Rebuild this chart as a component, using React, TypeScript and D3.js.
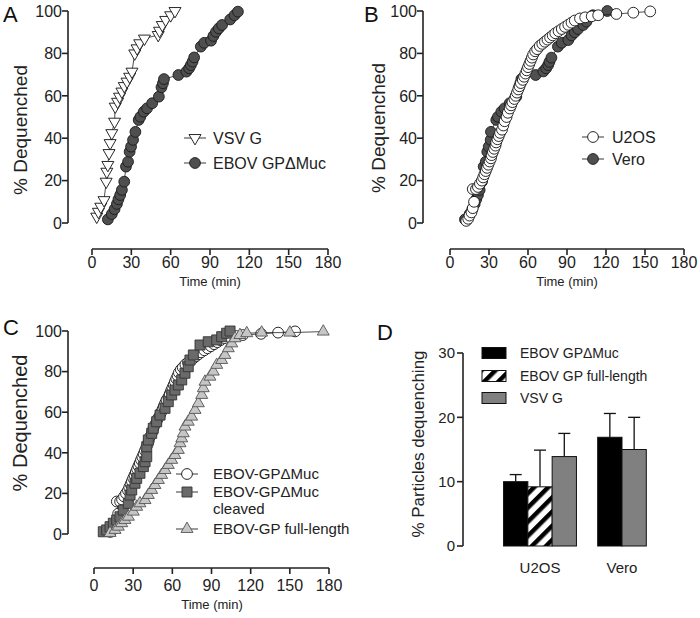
import React from 'react';
import * as d3 from 'd3';

const FONT = '"Liberation Sans", Arial, Helvetica, sans-serif';

// ---------- tick labels ----------
const timeTicks = [0, 30, 60, 90, 120, 150, 180];
const pctTicks = [0, 20, 40, 60, 80, 100];
const barTicks = [0, 10, 20, 30];

// ---------- Panel A: [time (min), % dequenched] ----------
const vsvG: [number, number][] = [
  [3.6, 3], [4.9, 5.3], [6.7, 7.7], [9.2, 10.8], [10.8, 19.5], [11.3, 24.2], [12.1, 27.4], [13, 33],
  [13.8, 37.7], [15.1, 42.4], [17.2, 47.8], [17.7, 54.9], [19.5, 57.2], [21, 59.6], [22.8, 62],
  [24.6, 64.6], [26.7, 66.7], [28.7, 69], [30.5, 71.4], [32.6, 80], [34.4, 82.4], [36.4, 84.8],
  [40, 87], [50.5, 88.7], [51.5, 90.7], [53.6, 93.4], [56.2, 95.8], [60, 98], [63.3, 100],
];
const ebovDMucA: [number, number][] = [
  [12.1, 1.7], [15.1, 4.2], [17.2, 6.5], [19, 9], [20.2, 11.2], [21.5, 13.2], [22.8, 15.6], [24.6, 19.5],
  [25.9, 26.6], [27.5, 28.9], [28.7, 33.6], [29.8, 36], [31.3, 39.2], [33.1, 43], [35.6, 48.6],
  [36.9, 50.1], [39.5, 52.5], [42, 54.1], [45.9, 56.5], [51, 59.6], [53, 64], [54.1, 65.9], [54.9, 67.9],
  [65.9, 69.8], [72, 71.4], [74.1, 73], [75.4, 74.5], [76.7, 76.1], [77.9, 78.1], [83, 83.2], [85.6, 85],
  [90.8, 86], [92.6, 88.2], [94.6, 90.2], [96.7, 91.8], [99.2, 93.4], [105.4, 96], [108.7, 98], [111.3, 99.7],
];

// ---------- Panel B ----------
const u2os: [number, number][] = [
  [12.5, 1], [14, 2], [15, 3.5], [16.5, 5], [17.5, 7], [18.5, 10], [17.5, 16], [20, 16], [21.5, 17],
  [23, 18.5], [24.5, 20], [25.5, 21.5], [26.5, 23], [27.5, 24.5], [28.5, 26], [29.5, 27.5], [30.5, 29],
  [31.5, 30.5], [32, 32], [33, 33.5], [34, 35], [35, 36.5], [35.5, 38], [36.5, 39.5], [37.5, 41],
  [38.5, 42.5], [40, 44], [41, 46], [42, 48], [43.5, 50], [44.5, 52], [46, 54], [47, 55.5], [48, 57],
  [49.5, 58.5], [50.5, 60], [51.5, 61.5], [52.5, 63], [53.5, 64.5], [54.5, 66], [56, 67.5], [57, 69],
  [58, 70.5], [59, 72], [60, 73.5], [61, 75], [62, 76.5], [63, 78], [64, 79.5], [65.5, 81], [67, 82],
  [69, 83.5], [71, 84.5], [73, 85.5], [75, 86.5], [77, 87.5], [79, 88.5], [81, 89.5], [83.5, 90.5],
  [86, 91.5], [88.5, 92.5], [91, 93.5], [93.5, 94.5], [96, 95.5], [100, 96.5], [104, 97], [109, 97.5],
  [114, 98], [128, 98.6], [141, 99.2], [154, 99.8],
];
const vero: [number, number][] = [
  [11.5, 1.7], [15.1, 4.2], [17.2, 6.5], [19, 9], [20.2, 11.2], [21.5, 13.2], [22.8, 15.6], [24.6, 19.5],
  [25.9, 26.6], [27.5, 28.9], [28.7, 33.6], [29.8, 36], [31.3, 39.2], [31.5, 43], [35.6, 48.6],
  [36.9, 50.1], [39.5, 52.5], [42, 54.1], [45.9, 56.5], [51, 59.6], [53, 64], [54.1, 65.9], [54.9, 67.9],
  [65.9, 69.8], [71.8, 71.5], [74, 73], [75.5, 74.5], [76.5, 76], [78, 78], [83, 83.2], [86, 85],
  [91, 86.3], [93.5, 88.5], [96, 90], [98.5, 91.5], [102.5, 93.4], [105, 95], [110, 98], [121, 100],
];

// ---------- Panel C ----------
const ebovDMucC: [number, number][] = [
  [12.5, 1], [14, 2], [15, 3.5], [16.5, 5], [17.5, 7], [18.5, 10], [17.5, 16], [20, 16], [21.5, 17],
  [23, 18.5], [24.5, 20], [26, 21.5], [27, 23], [28, 24.5], [29, 26], [30, 27.5], [31, 29],
  [32, 30.5], [33, 32], [34, 33.5], [35, 35], [36, 36.5], [37, 38], [38, 39.5], [39, 41],
  [40, 42.5], [41, 44], [42, 46], [43, 48], [44.5, 50], [45.5, 52], [47, 54], [48, 55.5], [49, 57],
  [50.5, 58.5], [51.5, 60], [52.5, 61.5], [53.5, 63], [54.5, 64.5], [55.5, 66], [57, 67.5], [58, 69],
  [59, 70.5], [60, 72], [61, 73.5], [62, 75], [63, 76.5], [64, 78], [65, 79.5], [66.5, 81], [68, 82],
  [70, 83.5], [72, 84.5], [74, 85.5], [76, 86.5], [78, 87.5], [80, 88.5], [82, 89.5], [84.5, 90.5],
  [87, 91.5], [89.5, 92.5], [92, 93.5], [94.5, 94.5], [97, 95.5], [100, 96.5], [104, 97], [109, 97.5],
  [114, 98], [128, 98.6], [141, 99.2], [154, 99.8],
];
const ebovDMucCleaved: [number, number][] = [
  [7.1, 1.1], [9.7, 2], [12.3, 3.6], [14.8, 5.3], [17.4, 6.9], [19.9, 8.5], [22.4, 11.8], [26.3, 15.1],
  [27.6, 19.2], [28.9, 21.7], [31.4, 25], [32.7, 27.4], [35.2, 29.9], [37.8, 33.2], [39.1, 35.6],
  [40.4, 38.1], [40.4, 43], [41.6, 46.3], [44.2, 49.6], [45.4, 52.1], [48, 55.3], [50.6, 58.6],
  [54.4, 61.9], [56.9, 65.2], [59.5, 68.5], [62, 70.9], [64.6, 73.4], [67.2, 75.9], [69.7, 79.2],
  [72.2, 82.4], [73.5, 85.7], [76.1, 88.2], [81.2, 93.1], [87.5, 94.7], [94, 95.6], [97.8, 97.2],
  [101.6, 98.9], [104.2, 100],
];
const ebovFullLength: [number, number][] = [
  [12.3, 0.5], [16.1, 2], [18.6, 3.6], [21.2, 5.3], [23.7, 6.9], [26.3, 8.5], [30.1, 11], [32.7, 13.4],
  [35.2, 15.1], [39.1, 16.7], [41.6, 19.2], [44.2, 21.7], [46.7, 24.1], [49.3, 26.6], [51.8, 29.1],
  [54.4, 31.5], [56.9, 34], [59.5, 36.5], [62, 38.9], [64.6, 41.4], [65.9, 44.7], [67.2, 47.1],
  [68.4, 49.6], [69.7, 52.9], [72.2, 55.3], [74.8, 57.8], [77.4, 61.1], [79.9, 64.4], [82.5, 68.5],
  [83.7, 71.8], [85, 75], [88.8, 77.5], [91.4, 80], [94, 83.3], [97.8, 85.7], [100.3, 88.2],
  [102.9, 91.5], [105.5, 93.9], [108, 96.4], [111.8, 98], [117, 98.9], [128.4, 99.2], [150, 99.2],
  [175.6, 99.7],
];

// ---------- Panel D ----------
const cellLines = ['U2OS', 'Vero'];
const barSeries = ['EBOV GPΔMuc', 'EBOV GP full-length', 'VSV G'];
const barMeans = [
  [10.0, 9.2, 13.9],
  [16.9, null, 15.0],
];
const barUpper = [
  [11.1, 14.9, 17.5],
  [20.6, null, 20.0],
];

type Marker = 'circleOpen' | 'circleFilled' | 'triDown' | 'triUp' | 'square';

const triPath = d3.symbol().type(d3.symbolTriangle).size(62)() as string;
const sqPath = d3.symbol().type(d3.symbolSquare).size(100)() as string;

function MarkerShape({ type, x, y }: { type: Marker; x: number; y: number }) {
  const t = `translate(${x},${y})`;
  switch (type) {
    case 'circleOpen':
      return <circle cx={x} cy={y} r={5.4} fill="#fff" stroke="#111" strokeWidth={0.9} />;
    case 'circleFilled':
      return <circle cx={x} cy={y} r={5.4} fill="#4f4f4f" stroke="#1a1a1a" strokeWidth={0.9} />;
    case 'triDown':
      return <path d={triPath} transform={`${t} rotate(180)`} fill="#fff" stroke="#111" strokeWidth={0.9} />;
    case 'triUp':
      return <path d={triPath} transform={t} fill="#c6c6c6" stroke="#555" strokeWidth={0.9} />;
    case 'square':
      return <path d={sqPath} transform={t} fill="#6a6a6a" stroke="#333" strokeWidth={0.9} />;
  }
}

function Series({ data, x, y, marker }: { data: [number, number][]; x: any; y: any; marker: Marker }) {
  const line = d3.line<[number, number]>().x((d) => x(d[0])).y((d) => y(d[1]));
  return (
    <g>
      <path d={line(data) || ''} fill="none" stroke="#222" strokeWidth={0.8} />
      {data.map((d, i) => (
        <MarkerShape key={i} type={marker} x={x(d[0])} y={y(d[1])} />
      ))}
    </g>
  );
}

function YAxis({ y, ticks, x0, fs, gap }: { y: any; ticks: number[]; x0: number; fs: number; gap: number }) {
  const [d0, d1] = y.domain();
  return (
    <g>
      <line x1={x0} x2={x0} y1={y(d0)} y2={y(d1)} stroke="#222" strokeWidth={1.6} />
      {ticks.map((t) => (
        <g key={t}>
          <line x1={x0 - 6} x2={x0} y1={y(t)} y2={y(t)} stroke="#222" strokeWidth={1.6} />
          <text x={x0 - gap} y={y(t) + fs * 0.36} fontSize={fs} textAnchor="end" fontFamily={FONT} fill="#222">
            {t}
          </text>
        </g>
      ))}
    </g>
  );
}

function XAxis({ x, ticks, y0, fs, labelOffset }: { x: any; ticks: number[]; y0: number; fs: number; labelOffset: number }) {
  const [d0, d1] = x.domain();
  return (
    <g>
      <line x1={x(d0)} x2={x(d1)} y1={y0} y2={y0} stroke="#222" strokeWidth={1.6} />
      {ticks.map((t) => (
        <g key={t}>
          <line x1={x(t)} x2={x(t)} y1={y0} y2={y0 + 6} stroke="#222" strokeWidth={1.6} />
          <text x={x(t)} y={y0 + labelOffset} fontSize={fs} textAnchor="middle" fontFamily={FONT} fill="#222">
            {t}
          </text>
        </g>
      ))}
    </g>
  );
}

function LegendRow({ marker, x, y, label, fs, textX }: { marker: Marker; x: number; y: number; label: string; fs: number; textX: number }) {
  return (
    <g>
      <line x1={x - 11} x2={x + 11} y1={y} y2={y} stroke="#222" strokeWidth={0.9} />
      <MarkerShape type={marker} x={x} y={y} />
      <text x={textX} y={y + fs * 0.36} fontSize={fs} fontFamily={FONT} fill="#222">
        {label}
      </text>
    </g>
  );
}

function Letter({ x, y, c }: { x: number; y: number; c: string }) {
  return (
    <text x={x} y={y} fontSize={22} fontFamily={FONT} fill="#111">
      {c}
    </text>
  );
}

function YLabel({ x, y, text, fs }: { x: number; y: number; text: string; fs: number }) {
  return (
    <text transform={`translate(${x},${y}) rotate(-90)`} textAnchor="middle" fontSize={fs} fontFamily={FONT} fill="#222">
      {text}
    </text>
  );
}

export default function App() {
  const xA = d3.scaleLinear().domain([0, 180]).range([92, 328]);
  const yA = d3.scaleLinear().domain([0, 100]).range([223, 11]);
  const xB = d3.scaleLinear().domain([0, 180]).range([450, 684]);
  const yB = d3.scaleLinear().domain([0, 100]).range([223, 11]);
  const xC = d3.scaleLinear().domain([0, 180]).range([94, 329]);
  const yC = d3.scaleLinear().domain([0, 100]).range([534, 331]);
  const yD = d3.scaleLinear().domain([0, 30]).range([546, 353]);
  const xD = d3.scaleBand<string>().domain(cellLines).range([499, 663]).padding(0);
  const barW = 24.3;
  const fills = ['#000', 'url(#hatch)', '#808080'];

  return (
    <svg width={700} height={618} style={{ position: 'absolute', left: 0, top: 0, background: '#fff' }}>
      <defs>
        <pattern id="hatch" patternUnits="userSpaceOnUse" width={10} height={10} patternTransform="rotate(45)">
          <rect width={10} height={10} fill="#fff" />
          <rect width={4.5} height={10} fill="#000" />
        </pattern>
      </defs>

      {/* Panel A */}
      <Letter x={3} y={22} c="A" />
      <YLabel x={27} y={130} text="% Dequenched" fs={19} />
      <YAxis y={yA} ticks={pctTicks} x0={68} fs={16} gap={6} />
      <XAxis x={xA} ticks={timeTicks} y0={249} fs={16} labelOffset={19} />
      <text x={210} y={286} fontSize={13} textAnchor="middle" fontFamily={FONT} fill="#222">Time (min)</text>
      <Series data={vsvG} x={xA} y={yA} marker="triDown" />
      <Series data={ebovDMucA} x={xA} y={yA} marker="circleFilled" />
      <LegendRow marker="triDown" x={195} y={138} label="VSV G" fs={16} textX={213} />
      <LegendRow marker="circleFilled" x={195} y={163} label="EBOV GPΔMuc" fs={16} textX={213} />

      {/* Panel B */}
      <Letter x={364} y={22} c="B" />
      <YLabel x={385} y={128} text="% Dequenched" fs={19} />
      <YAxis y={yB} ticks={pctTicks} x0={423} fs={16} gap={6} />
      <XAxis x={xB} ticks={timeTicks} y0={249} fs={16} labelOffset={19} />
      <text x={567} y={286} fontSize={13} textAnchor="middle" fontFamily={FONT} fill="#222">Time (min)</text>
      <Series data={vero} x={xB} y={yB} marker="circleFilled" />
      <Series data={u2os} x={xB} y={yB} marker="circleOpen" />
      <LegendRow marker="circleOpen" x={593} y={137} label="U2OS" fs={16} textX={612} />
      <LegendRow marker="circleFilled" x={593} y={159} label="Vero" fs={16} textX={612} />

      {/* Panel C */}
      <Letter x={3} y={335} c="C" />
      <YLabel x={27} y={423} text="% Dequenched" fs={20} />
      <YAxis y={yC} ticks={pctTicks} x0={68} fs={16} gap={6} />
      <XAxis x={xC} ticks={timeTicks} y0={568} fs={16} labelOffset={23} />
      <text x={212} y={609} fontSize={13} textAnchor="middle" fontFamily={FONT} fill="#222">Time (min)</text>
      <Series data={ebovDMucC} x={xC} y={yC} marker="circleOpen" />
      <Series data={ebovDMucCleaved} x={xC} y={yC} marker="square" />
      <Series data={ebovFullLength} x={xC} y={yC} marker="triUp" />
      <LegendRow marker="circleOpen" x={187} y={474} label="EBOV-GPΔMuc" fs={15} textX={213} />
      <LegendRow marker="square" x={187} y={492} label="EBOV-GPΔMuc" fs={15} textX={213} />
      <text x={213} y={509 + 5.4} fontSize={15} fontFamily={FONT} fill="#222">cleaved</text>
      <LegendRow marker="triUp" x={187} y={529} label="EBOV-GP full-length" fs={15} textX={213} />

      {/* Panel D */}
      <Letter x={377} y={340} c="D" />
      <YLabel x={424} y={444} text="% Particles dequenching" fs={17} />
      <YAxis y={yD} ticks={barTicks} x0={463} fs={15} gap={8} />
      {cellLines.map((cl, gi) => {
        const present = barMeans[gi].map((v, si) => ({ v, si })).filter((d) => d.v !== null);
        const center = (xD(cl) as number) + xD.bandwidth() / 2;
        const start = center - (present.length * barW) / 2;
        return (
          <g key={cl}>
            {present.map((d, k) => {
              const x0 = start + k * barW;
              const top = yD(d.v as number);
              const up = yD(barUpper[gi][d.si] as number);
              const cx = x0 + barW / 2;
              return (
                <g key={k}>
                  <line x1={cx} x2={cx} y1={top} y2={up} stroke="#111" strokeWidth={1.3} />
                  <line x1={cx - 6} x2={cx + 6} y1={up} y2={up} stroke="#111" strokeWidth={1.3} />
                  <rect x={x0} y={top} width={barW} height={yD(0) - top} fill={fills[d.si]} stroke="#111" strokeWidth={1} />
                </g>
              );
            })}
            <text x={center} y={573} fontSize={15} textAnchor="middle" fontFamily={FONT} fill="#222">{cl}</text>
          </g>
        );
      })}
      {barSeries.map((s, i) => {
        const yy = [353, 376, 398][i];
        return (
          <g key={s}>
            <rect x={482} y={yy - 5.5} width={24} height={11} fill={fills[i]} stroke="#111" strokeWidth={1} />
            <text x={520} y={yy + 5} fontSize={14} fontFamily={FONT} fill="#222">{s}</text>
          </g>
        );
      })}
    </svg>
  );
}
